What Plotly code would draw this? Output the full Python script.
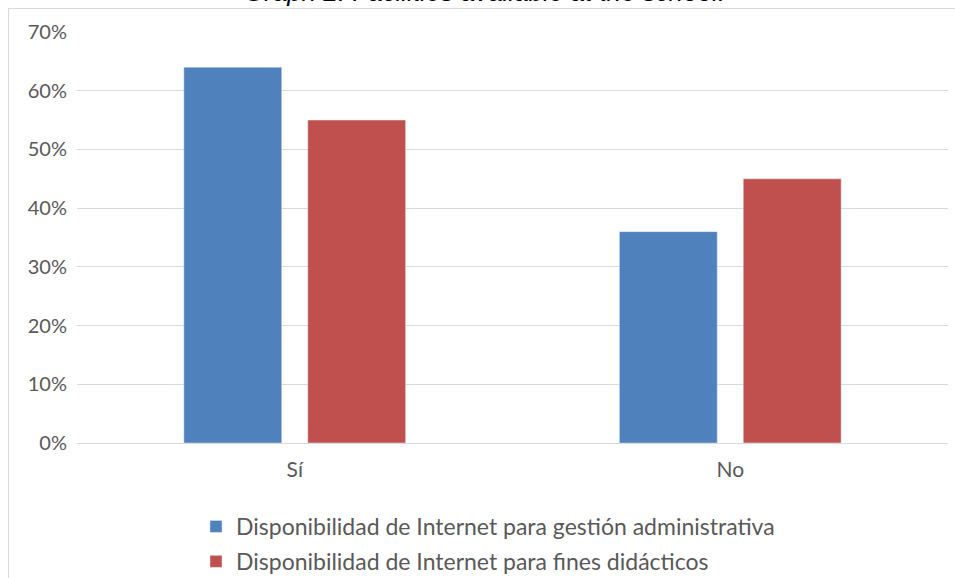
import plotly.graph_objects as go

categories = ["Sí", "No"]
series_names = ["Disponibilidad de Internet para gestión administrativa",
                "Disponibilidad de Internet para fines didácticos"]
admin_values = [0.64, 0.36]
didact_values = [0.55, 0.45]
tick_vals = [0, 0.1, 0.2, 0.3, 0.4, 0.5, 0.6, 0.7]
tick_text = ["0%", "10%", "20%", "30%", "40%", "50%", "60%", "70%"]
title_text = "Graph 2. Facilities available at the school."

W, H = 955, 578
ml, mr, mt, mb = 77, 7, 32, 135
pw, ph = W - ml - mr, H - mt - mb

def px_x(p):
    return (p - ml) / pw

def px_y(p):
    return (H - mb - p) / ph

fig = go.Figure()
fig.add_trace(go.Bar(x=categories, y=admin_values, name=series_names[0],
                     marker_color="#4f81bd", legendgroup="a"))
fig.add_trace(go.Bar(x=categories, y=didact_values, name=series_names[1],
                     marker_color="#c0504d", legendgroup="b"))

fig.update_layout(
    width=W, height=H,
    margin=dict(l=ml, r=mr, t=mt, b=mb, pad=0, autoexpand=False),
    paper_bgcolor="white", plot_bgcolor="white",
    barmode="group", bargap=0.431, bargroupgap=0.21,
    font=dict(family="Lato, Carlito, sans-serif", size=20, color="#595959"),
    showlegend=True,
    legend=dict(orientation="v", x=px_x(196), xanchor="left", y=px_y(505), yanchor="top",
                font=dict(size=23, color="#595959"), bgcolor="rgba(0,0,0,0)",
                itemwidth=30, tracegroupgap=2, traceorder="grouped"),
    yaxis=dict(range=[0, 0.7], tickvals=tick_vals, ticktext=tick_text,
               showgrid=True, gridcolor="#d9d9d9", gridwidth=1,
               zeroline=True, zerolinecolor="#d9d9d9", zerolinewidth=1,
               showline=False, ticks="", ticklabelstandoff=9, automargin=False,
               tickfont=dict(size=20)),
    xaxis=dict(showline=False, ticks="", showgrid=False, ticklabelstandoff=12,
               automargin=False, tickfont=dict(size=21)),
)

fig.add_shape(type="rect", xref="paper", yref="paper",
              x0=px_x(8.5), x1=px_x(1000), y0=px_y(1000), y1=px_y(8.5),
              line=dict(color="#d9d9d9", width=1), fillcolor="rgba(0,0,0,0)", layer="below")

fig.add_annotation(text="<i>" + title_text + "</i>", xref="paper", yref="paper",
                   x=px_x(484), y=px_y(9), xanchor="center", yanchor="bottom",
                   showarrow=False, font=dict(family="Liberation Sans, Arial", size=26, color="black"))

fig.write_html("out.html")
